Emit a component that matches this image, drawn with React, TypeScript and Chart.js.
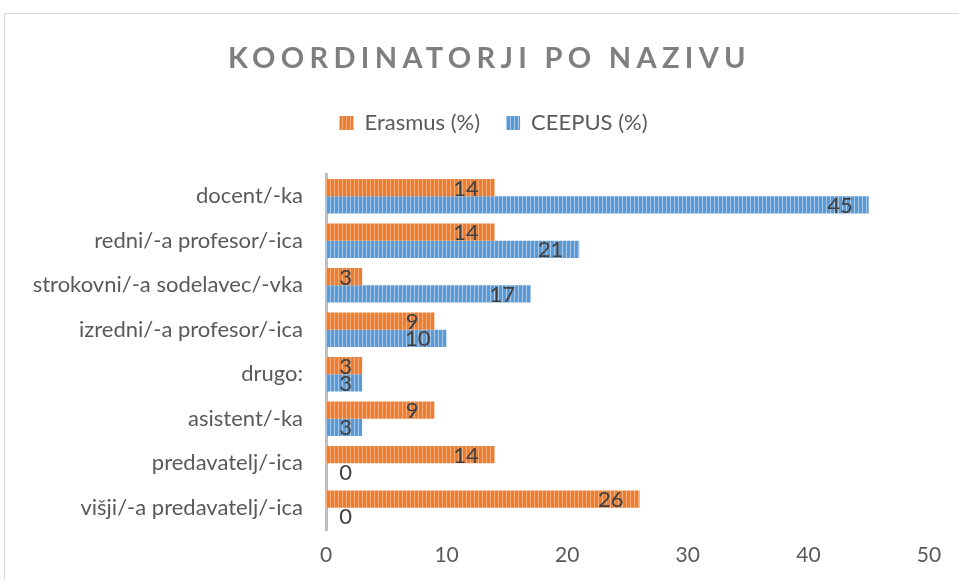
import React, { useEffect, useRef } from "react";
import { Chart, registerables } from "chart.js";

Chart.register(...registerables);

const categories = [
  "docent/-ka",
  "redni/-a profesor/-ica",
  "strokovni/-a sodelavec/-vka",
  "izredni/-a profesor/-ica",
  "drugo:",
  "asistent/-ka",
  "predavatelj/-ica",
  "višji/-a predavatelj/-ica",
];
const erasmusValues = [14, 14, 3, 9, 3, 9, 14, 26];
const ceepusValues = [45, 21, 17, 10, 3, 3, 0, 0];
const seriesNames = ["Erasmus (%)", "CEEPUS (%)"];
const titleText = "KOORDINATORJI PO NAZIVU";
const xMin = 0;
const xMax = 50;
const xStep = 10;

const FONT = "Lato, 'Open Sans', sans-serif";

function stripePattern(base: string, light: string): CanvasPattern | string {
  const c = document.createElement("canvas");
  c.width = 4;
  c.height = 4;
  const x = c.getContext("2d");
  if (!x) return base;
  x.fillStyle = base;
  x.fillRect(0, 0, 4, 4);
  x.fillStyle = light;
  x.fillRect(2, 0, 1, 4);
  const p = x.createPattern(c, "repeat");
  return p || base;
}

const titlePlugin = {
  id: "customTitle",
  afterDraw(chart: any) {
    const ctx = chart.ctx as CanvasRenderingContext2D;
    ctx.save();
    ctx.font = `bold 29px ${FONT}`;
    ctx.fillStyle = "#7f7f7f";
    (ctx as any).letterSpacing = "5.3px";
    ctx.textAlign = "left";
    ctx.textBaseline = "alphabetic";
    ctx.fillText(titleText, 228, 68);
    ctx.restore();
  },
};

// adds empty space below the legend row (gap between legend and plot)
const legendGapPlugin = {
  id: "legendGap",
  afterInit(chart: any) {
    const lg = chart.legend;
    if (!lg || lg._gapPatched) return;
    const orig = lg.fit.bind(lg);
    lg.fit = function () {
      orig();
      this.height += 30;
    };
    lg._gapPatched = true;
  },
};

const valueLabelPlugin = {
  id: "valueLabels",
  afterDatasetsDraw(chart: any) {
    const ctx = chart.ctx as CanvasRenderingContext2D;
    const xs = chart.scales.x;
    const zero = xs.getPixelForValue(0);
    ctx.save();
    ctx.font = `22px ${FONT}`;
    ctx.fillStyle = "#404040";
    ctx.textAlign = "right";
    ctx.textBaseline = "alphabetic";
    chart.data.datasets.forEach((ds: any, di: number) => {
      const meta = chart.getDatasetMeta(di);
      meta.data.forEach((bar: any, i: number) => {
        const v = ds.data[i];
        const right = Math.max(bar.x - 16, zero + 26);
        ctx.fillText(String(v), right, bar.y + 8);
      });
    });
    ctx.restore();
  },
};

export default function App() {
  const ref = useRef<HTMLCanvasElement | null>(null);

  useEffect(() => {
    if (!ref.current) return;
    const orange = stripePattern("#ED7D31", "#F6AE7C");
    const blue = stripePattern("#5B9BD5", "#A6C8EA");
    const chart = new Chart(ref.current, {
      type: "bar",
      data: {
        labels: categories,
        datasets: [
          {
            label: seriesNames[0],
            data: erasmusValues,
            backgroundColor: orange as any,
            borderWidth: 0,
            barPercentage: 1,
            categoryPercentage: 0.77,
          },
          {
            label: seriesNames[1],
            data: ceepusValues,
            backgroundColor: blue as any,
            borderWidth: 0,
            barPercentage: 1,
            categoryPercentage: 0.77,
          },
        ],
      },
      options: {
        indexAxis: "y",
        responsive: false,
        animation: false,
        layout: { padding: { top: 86, left: 58, right: 30, bottom: 0 } },
        plugins: {
          title: { display: false },
          tooltip: { enabled: false },
          legend: {
            display: true,
            position: "top",
            labels: {
              boxWidth: 14,
              boxHeight: 14,
              padding: 26,
              color: "#595959",
              font: { family: FONT, size: 22 },
            },
          },
        },
        scales: {
          x: {
            min: xMin,
            max: xMax,
            ticks: {
              stepSize: xStep,
              color: "#595959",
              font: { family: FONT, size: 21 },
              padding: 13,
            },
            grid: { display: false, drawTicks: false },
            border: { display: false },
            afterFit: (s: any) => {
              s.height = 50;
            },
          },
          y: {
            ticks: {
              color: "#595959",
              font: { family: FONT, size: 22 },
              padding: 23,
            },
            grid: { display: false, drawTicks: false },
            border: { display: true, color: "#bfbfbf", width: 3 },
            afterFit: (s: any) => {
              s.width = 268;
              // let long category labels extend left of the scale box
              s._computeLabelArea = () => undefined;
            },
          },
        },
      },
      plugins: [legendGapPlugin, titlePlugin, valueLabelPlugin],
    });
    return () => chart.destroy();
  }, []);

  return (
    <div style={{ position: "absolute", left: 0, top: 0, width: 959, height: 580, background: "#fff", overflow: "hidden" }}>
      <div
        style={{
          position: "absolute",
          left: 4,
          top: 13,
          width: 1000,
          height: 700,
          border: "1.5px solid #d9d9d9",
          boxSizing: "border-box",
        }}
      />
      <canvas ref={ref} width={959} height={580} style={{ position: "absolute", left: 0, top: 0, display: "block" }} />
    </div>
  );
}
